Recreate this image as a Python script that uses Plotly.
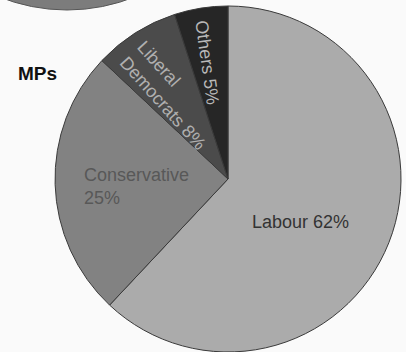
import plotly.graph_objects as go

parties = ["Labour", "Conservative", "Liberal Democrats", "Others"]
shares = [62, 25, 8, 5]
colors = ["#ababab", "#828282", "#4b4b4b", "#262626"]
label_texts = ["Labour 62%", "Conservative<br>25%", "Liberal<br>Democrats 8%", "Others 5%"]

W, H = 406, 352

fig = go.Figure()
fig.add_trace(go.Pie(
    labels=parties, values=shares, sort=False, direction="clockwise", rotation=0,
    marker=dict(colors=colors, line=dict(color="#3a3a3a", width=1)),
    textinfo="none", showlegend=False,
    domain=dict(x=[0.1355, 0.9877], y=[0.0, 0.983]),
))

# partial pie of a previous chart cut off at top-left
fig.add_shape(type="circle", xref="paper", yref="paper",
              x0=(67 - 182) / W, x1=(67 + 182) / W,
              y0=1 - 10 / H, y1=1 + 354 / H,
              fillcolor="#7c7c7c", line=dict(color="#555555", width=1), layer="below")

font = "Liberation Sans, Arial, sans-serif"
anns = [
    dict(text="<b>MPs</b>", x=37 / W, y=1 - 73 / H, font=dict(size=19, color="#111111", family=font), textangle=0),
    dict(text=label_texts[0], x=300 / W, y=1 - 222 / H, font=dict(size=18, color="#333333", family=font), textangle=0),
    dict(text=label_texts[1], x=136 / W, y=1 - 186 / H, font=dict(size=18, color="#585858", family=font), textangle=0, align="left"),
    dict(text=label_texts[2], x=172 / W, y=1 - 95 / H, font=dict(size=18, color="#b0b0b0", family=font), textangle=48, align="left"),
    dict(text=label_texts[3], x=207 / W, y=1 - 62 / H, font=dict(size=18, color="#b8b8b8", family=font), textangle=82),
]
for a in anns:
    fig.add_annotation(xref="paper", yref="paper", showarrow=False,
                       xanchor="center", yanchor="middle", **a)

fig.update_layout(width=W, height=H, margin=dict(l=0, r=0, t=0, b=0),
                  paper_bgcolor="#fafafa", plot_bgcolor="#fafafa")
fig.write_html("out.html")
